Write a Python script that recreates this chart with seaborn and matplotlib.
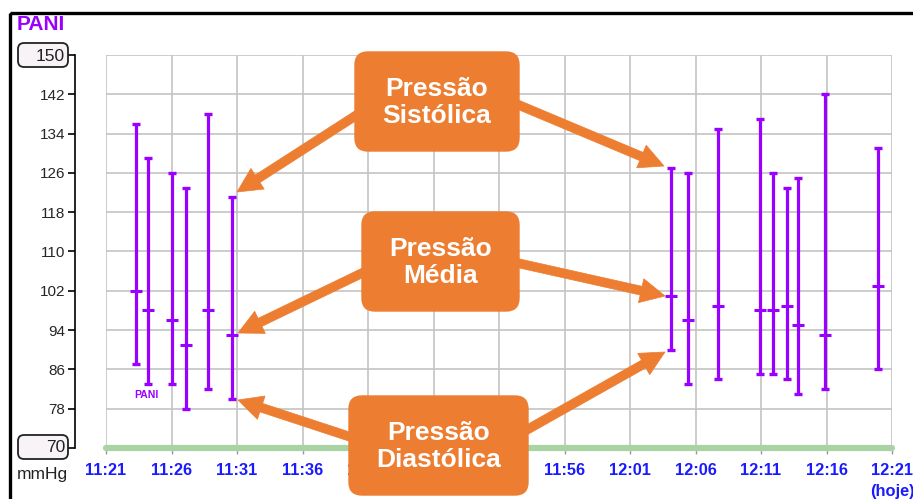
import pandas as pd
import matplotlib.pyplot as plt
import seaborn as sns
from matplotlib.patches import FancyBboxPatch, Rectangle

# leituras PANI (hora, sistolica, media, diastolica)
horas = ['11:23:18', '11:24:12', '11:26:00', '11:27:06', '11:28:48', '11:30:36',
         '12:04:06', '12:05:24', '12:07:42', '12:10:54', '12:11:54', '12:13:00',
         '12:13:48', '12:15:54', '12:19:57']
sistolica = [136, 129, 126, 123, 138, 121, 127, 126, 135, 137, 126, 123, 125, 142, 131]
media = [102, 98, 96, 91, 98, 93, 101, 96, 99, 98, 98, 99, 95, 93, 103]
diastolica = [87, 83, 83, 78, 82, 80, 90, 83, 84, 85, 85, 84, 81, 82, 86]

x_labels = ['11:21', '11:26', '11:31', '11:36', '11:41', '11:46', '11:51',
            '11:56', '12:01', '12:06', '12:11', '12:16', '12:21\n(hoje)']
y_ticks = [70, 78, 86, 94, 102, 110, 118, 126, 134, 142, 150]

ROXO = '#9900ff'
LARANJA = '#ed7d31'
AZUL = '#2e2eb8'

sns.set_theme(style='white')
plt.rcParams['font.family'] = ['Liberation Sans', 'DejaVu Sans']

df = pd.DataFrame({'hora': horas, 'sis': sistolica, 'med': media, 'dia': diastolica})
t0 = pd.to_datetime('11:21:00', format='%H:%M:%S')
df['min'] = (pd.to_datetime(df['hora'], format='%H:%M:%S') - t0).dt.total_seconds() / 60

fig = plt.figure(figsize=(9.13, 4.99), dpi=100)
ax = fig.add_axes([106 / 913, 51 / 499, 786 / 913, 393 / 499])

# barras min-max com tampas
ax.errorbar(df['min'], df['med'], yerr=[df['med'] - df['dia'], df['sis'] - df['med']],
            fmt='none', ecolor=ROXO, elinewidth=2.3, capsize=3.2, capthick=2.4, zorder=4)
sns.scatterplot(data=df, x='min', y='med', marker='_', s=64, color=ROXO,
                linewidth=2.2, ax=ax, zorder=5, legend=False)

ax.set_xlim(0, 60)
ax.set_ylim(70, 150)
ax.set_xticks(range(0, 61, 5))
ax.set_xticklabels(x_labels, color='#1a1aff', fontweight='bold', fontsize=11.8, linespacing=1.45)
ax.set_yticks(y_ticks)
ax.set_yticklabels(['' if v in (70, 150) else str(v) for v in y_ticks], color=AZUL, fontsize=11.8)
ax.set_xlabel('')
ax.set_ylabel('')
ax.grid(True, color='#c4c4c4', lw=1.2)
ax.set_axisbelow(True)
for s in ['top', 'right', 'bottom']:
    ax.spines[s].set_visible(False)
ax.spines['left'].set_position(('outward', 22.3))
ax.spines['left'].set_color('black')
ax.spines['left'].set_linewidth(1.2)
ax.tick_params(axis='y', which='both', left=True, length=5, width=1.2, color='black', pad=2)
ax.tick_params(axis='x', which='both', bottom=True, length=4, width=1, color='#999999', pad=7)
ax.axhline(70, color='#a9d3a2', lw=4.5, clip_on=False, zorder=3)
ax.text(3.1, 80.8, 'PANI', color=ROXO, fontsize=7.5, fontweight='bold', ha='center', va='center')

# camada de anotacoes em pixels
ov = fig.add_axes([0, 0, 1, 1], zorder=10)
ov.set_xlim(0, 913)
ov.set_ylim(499, 0)
ov.axis('off')
ov.patch.set_alpha(0)

ov.add_patch(Rectangle((10, 13), 920, 500, fill=False, ec='black', lw=2.4, clip_on=False))
ov.text(17, 24, 'PANI', color=ROXO, fontsize=15, fontweight='bold', ha='left', va='center')
ov.text(42, 474, 'mmHg', color='#222222', fontsize=12.5, ha='center', va='center')
for txt, yc in [('150', 55), ('70', 447)]:
    ov.add_patch(FancyBboxPatch((18, yc - 12), 50, 24, boxstyle='round,pad=0,rounding_size=6',
                                fc='#f7f3f7', ec='#222222', lw=1.3))
    ov.text(65, yc + 1, txt, color='#222222', fontsize=12.5, ha='right', va='center')

setas = [((380, 100), (237, 192)), ((495, 95), (664, 166)),
         ((385, 262), (238, 333)), ((495, 258), (665, 296)),
         ((375, 445), (238, 400)), ((500, 445), (665, 352))]
for (x0, y0), (x1, y1) in setas:
    ov.annotate('', xy=(x1, y1), xytext=(x0, y0),
                arrowprops=dict(arrowstyle='simple,head_length=1.1,head_width=1.1,tail_width=0.4',
                                mutation_scale=16, fc=LARANJA, ec=LARANJA, lw=0.5,
                                shrinkA=0, shrinkB=0))

caixas = [('Pressão\nSistólica', 355, 52, 519, 151),
          ('Pressão\nMédia', 362, 212, 519, 311),
          ('Pressão\nDiastólica', 349, 396, 528, 495)]
for txt, x0, y0, x1, y1 in caixas:
    ov.add_patch(FancyBboxPatch((x0, y0), x1 - x0, y1 - y0, boxstyle='round,pad=0,rounding_size=13',
                                fc=LARANJA, ec=LARANJA, lw=1, zorder=5))
    ov.text((x0 + x1) / 2, (y0 + y1) / 2 + 1, txt, color='white', fontsize=19, fontweight='bold',
            ha='center', va='center', linespacing=1.15, zorder=6)

fig.savefig('out.png', dpi=100)
